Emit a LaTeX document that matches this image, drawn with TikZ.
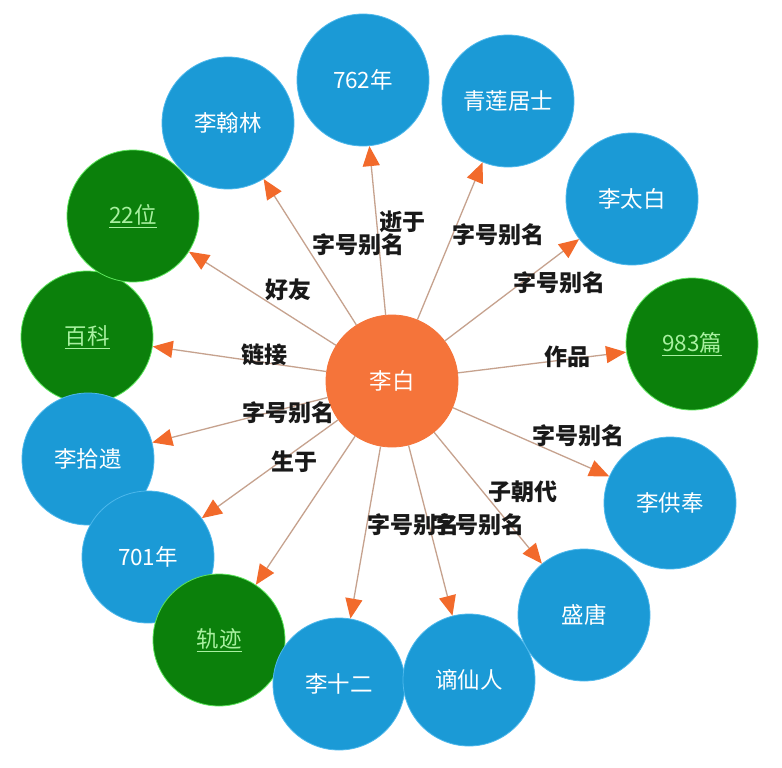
\documentclass[tikz,border=0pt]{standalone}
\usepackage{fontspec}
\newfontfamily\cjk{Noto Sans CJK SC}
\usetikzlibrary{arrows.meta}
\definecolor{nblue}{HTML}{1B9AD6}
\definecolor{nblueb}{HTML}{4DB8EC}
\definecolor{ngreen}{HTML}{0B800B}
\definecolor{ngreenb}{HTML}{5CE65C}
\definecolor{norange}{HTML}{F5743A}
\definecolor{arr}{HTML}{F26A2B}
\definecolor{eline}{HTML}{C6A28E}
\definecolor{lgreen}{HTML}{A8F0A0}
\begin{document}
\begin{tikzpicture}[x=1pt,y=-1pt,
  base/.style={circle,minimum size=132pt,inner sep=0pt,line width=0.8pt,font=\cjk\fontsize{22.5}{26}\selectfont},
  bnode/.style={base,fill=nblue,draw=nblueb,text=white},
  gnode/.style={base,fill=ngreen,draw=ngreenb,text=lgreen},
  cnode/.style={base,fill=norange,draw=norange,text=white},
  edge/.style={draw=eline,line width=1.3pt,-{Triangle[length=20pt,width=17pt,color=arr]}},
  elabel/.style={font=\cjk\bfseries\fontsize{23}{26}\selectfont,text=black!90,inner sep=0pt}
]
\fill[white] (0,0) rectangle (782,768);
\useasboundingbox (0,0) rectangle (782,768);

% outer nodes
\node[bnode] (hanlin) at (228,123) {李翰林};
\node[bnode] (y762) at (363,80) {762年};
\node[bnode] (qinglian) at (508,101) {青莲居士};
\node[bnode] (taibai) at (632,199) {李太白};
\node[gnode] (baike) at (87,337) {\underline{百科}};
\node[gnode] (wei22) at (133,216) {\underline{22位}};
\node[gnode] (pian) at (692,344) {\underline{983篇}};
\node[bnode] (shiyi) at (88,459) {李拾遗};
\node[bnode] (gongfeng) at (670,503) {李供奉};
\node[bnode] (y701) at (148,557) {701年};
\node[gnode] (guiji) at (219,640) {\underline{轨迹}};
\node[bnode] (shier) at (339,684) {李十二};
\node[bnode] (xianren) at (469,680) {谪仙人};
\node[bnode] (shengtang) at (584,615) {盛唐};
\node[cnode] (libai) at (392,381) {李白};

% edges
\draw[edge] (libai) -- (hanlin);
\draw[edge] (libai) -- (y762);
\draw[edge] (libai) -- (qinglian);
\draw[edge] (libai) -- (taibai);
\draw[edge] (libai) -- (wei22);
\draw[edge] (libai) -- (baike);
\draw[edge] (libai) -- (pian);
\draw[edge] (libai) -- (shiyi);
\draw[edge] (libai) -- (gongfeng);
\draw[edge] (libai) -- (y701);
\draw[edge] (libai) -- (guiji);
\draw[edge] (libai) -- (shier);
\draw[edge] (libai) -- (xianren);
\draw[edge] (libai) -- (shengtang);

% edge labels
\node[elabel] (l1) at (402,222) {逝于};
\node[elabel] (l2) at (358,245) {字号别名};
\node[elabel] (l3) at (498,235) {字号别名};
\node[elabel] (l4) at (559,283) {字号别名};
\node[elabel] (l5) at (288,290) {好友};
\node[elabel] (l6) at (264,355) {链接};
\node[elabel] (l7) at (567,357) {作品};
\node[elabel] (l8) at (288,413) {字号别名};
\node[elabel] (l9) at (578,436) {字号别名};
\node[elabel] (l10) at (294,462) {生于};
\node[elabel] (l11) at (523,492) {子朝代};
\node[elabel] (l12) at (413,525) {字号别名};
\node[elabel] (l13) at (478,525) {字号别名};
\end{tikzpicture}
\end{document}
